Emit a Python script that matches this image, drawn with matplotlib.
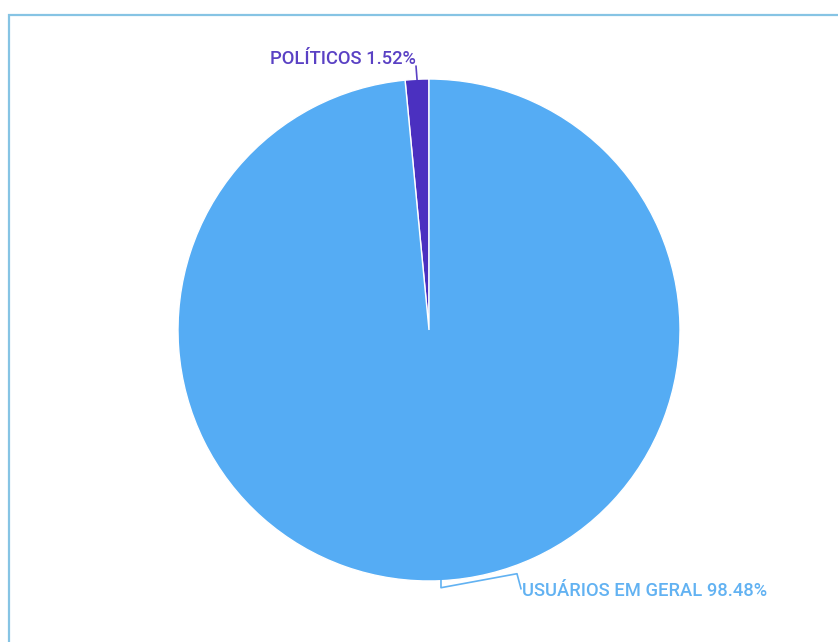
import numpy as np
import matplotlib

matplotlib.use("Agg")
import matplotlib.pyplot as plt
from matplotlib.patches import Rectangle

labels = ["POLÍTICOS", "USUÁRIOS EM GERAL"]
shares = [1.52, 98.48]
colors = ["#4b30c0", "#55acf4"]
label_colors = ["#5a41c4", "#62b2f2"]

W, H = 838, 642
fig = plt.figure(figsize=(W / 100, H / 100), dpi=100)
ax = fig.add_axes([0, 0, 1, 1])

# frame that runs off the right and bottom edges
ax.add_patch(Rectangle((8.5, -10), W + 20, H - 14.5 + 10, fill=False,
                       edgecolor="#86c4e4", lw=1.6, zorder=0))

cx, cy, r = 429, H - 330, 251
wedges, _ = ax.pie(shares, colors=colors, startangle=90, counterclock=True,
                   center=(cx, cy), radius=r, frame=True,
                   wedgeprops=dict(edgecolor="white", linewidth=1))
ax.set_xlim(0, W)
ax.set_ylim(0, H)
ax.set_aspect("equal")
ax.axis("off")

txt = dict(family="Roboto", fontsize=13.2, fontweight="medium")
for w, lab, val, lc in zip(wedges, labels, shares, label_colors):
    mid = np.deg2rad((w.theta1 + w.theta2) / 2)
    px, py = cx + r * np.cos(mid), cy + r * np.sin(mid)
    if py > cy:
        # upper label: short leader up, text ends at line
        ax.plot([px, px - 1], [py, py + 13], color=lc, lw=1.2)
        ax.text(px - 1, py + 11, f"{lab} {val:.2f}%", color=lc,
                ha="right", va="bottom", **txt)
    else:
        xs = [px, px, px + 76, px + 80]
        ys = [py, py - 7, py + 7, py - 8]
        ax.plot(xs, ys, color=lc, lw=1.2)
        ax.text(px + 81, py - 10, f"{lab} {val:.2f}%", color=lc,
                ha="left", va="center", **txt)

fig.savefig("out.png", dpi=100)
